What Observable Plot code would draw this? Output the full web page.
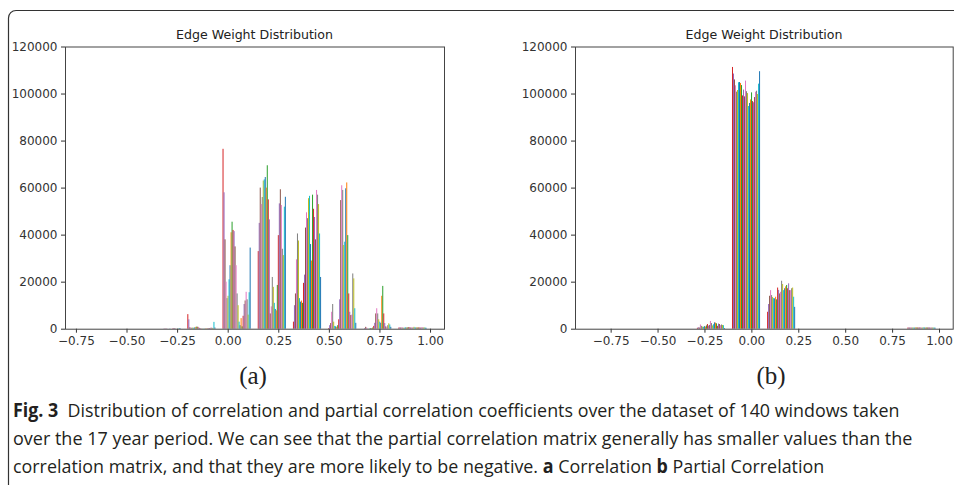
<!DOCTYPE html>
<html>
<head>
<meta charset="utf-8">
<script src="https://cdn.jsdelivr.net/npm/d3@7"></script>
<script src="https://cdn.jsdelivr.net/npm/@observablehq/plot@0.6"></script>
<style>
  html, body { margin: 0; padding: 0; background: #fff; }
  #page { position: relative; width: 954px; height: 485px; overflow: hidden; background: #fff; }
  .panel { position: absolute; top: 0; }
  #overlay { position: absolute; left: 0; top: 0; }
</style>
</head>
<body>
<div id="page">
  <div id="plotA" class="panel" style="left:0px"></div>
  <div id="plotB" class="panel" style="left:477px"></div>
  <svg id="overlay" width="954" height="485"></svg>
</div>
<script>
// ---------------- data ----------------
const tab10 = ["#1f77b4","#ff7f0e","#2ca02c","#d62728","#9467bd","#8c564b","#e377c2","#7f7f7f","#bcbd22","#17becf"];
const xTicks = [-0.75, -0.5, -0.25, 0, 0.25, 0.5, 0.75, 1.0];
const yTicks = [0, 20000, 40000, 60000, 80000, 100000, 120000];

// (a) Correlation: 10 bins, counts (thousands) per window-series within each non-empty bin
const corrBinCenters = [-0.651, -0.477, -0.303, -0.130, 0.044, 0.218, 0.392, 0.566, 0.739, 0.913];
const corrBinWidth = 0.1738;
const corrBin3 = [0,0,0,0,0,0,0,0,0,0,0,0.1,0.1,0.2,0.1,0,0,0.1,0,0,0.2,0.3,0.2,0.1,0,0.1,0.2,0.3];
const corrBin4 = [6.2,4,0.6,0.5,0.4,0.5,0.4,0.6,0.8,0.9,0.8,0.5,0.3,0.2,0.1,0.1,0.1,0.1,0.2,0.1,0.2,0.3,0.3,0.5,0.4,0.3,2.9,0.5];
const corrBin5 = [76.5,58,38,20,13,14,21,27,41,45.5,42,41.5,35,27,15,10,3,1.5,4.5,1,5.5,10.5,12,15.7,12.5,6,15.5,34.5];
const corrBin6 = [33,45,60,53,56,63,63.5,64.5,60,69.5,55,46.5,6.5,9.5,22,17.8,11,8.4,7.8,18.6,39.8,53.3,59.3,52.6,34,31.3,51.9,56.1];
const corrBin7 = [3,10,15,29.5,40.5,37.5,13,11.5,12,11,19.5,23,43,49.5,47,55.5,56.5,36,29,57,51,47.5,38,59,57,53,40.5,22];
const corrBin8 = [0.3,1.5,2.4,7.2,10.5,3,1.2,1,0.8,1.5,4,12.5,54.7,61,59,35.6,37,59.7,62.2,39.8,15,7.2,5.8,6,23.5,21.4,8.7,2.5];
const corrBin9 = [0,0.3,0.8,0.5,0.1,0.1,0.2,0.3,0.3,0.5,1.2,2.5,6.5,8.7,6.5,4,3,2.5,14,18.2,6.5,2.4,1,0.8,1.5,2.3,1.8,0.8];
const corrBin10 = [0.5,0.6,0.5,0.6,0.5,0.4,0.5,0.6,0.5,0.6,0.7,0.6,0.5,0.6,0.5,0.8,0.6,0.5,0.6,0.5,0.6,0.5,0.5,0.7,0.5,0.6,0.5,0.4];

// (b) Partial correlation
const pcorrBinCenters = [-0.7765, -0.5895, -0.4025, -0.2155, -0.0285, 0.1585, 0.3455, 0.5325, 0.7195, 0.9065];
const pcorrBinWidth = 0.187;
const pcorrBin4 = [0.4,0.6,0.5,1.8,1.2,0.9,0.8,1.1,0.9,1.4,2,1.3,1.6,3.3,2.4,1.4,1.9,2.7,2.6,2.3,1.2,2.2,2,1.5,1.8,1.6,1.5,0.3];
const pcorrBin5 = [111.3,108.5,106,103.5,100.8,101.5,104.8,104.9,104.5,103.6,99.2,101.7,98.8,105.5,101,100.2,94.7,96,97.5,100.5,96.8,96.3,98.5,100.8,101.2,99.8,104.2,109.5];
const pcorrBin6 = [7.2,10.5,14,16.4,14.3,13.5,13,12.9,13.6,12.5,17.5,16.5,15,15.7,20.4,19,16.4,17.2,18,18.6,17.2,19.3,16.4,16.4,17.2,17.5,13.6,9.3];
const pcorrBin10 = [0.5,0.55,0.5,0.6,0.5,0.55,0.5,0.5,0.6,0.5,0.55,0.5,0.6,0.5,0.5,0.55,0.6,0.5,0.5,0.55,0.5,0.6,0.5,0.5,0.55,0.5,0.5,0.45];

const captionLines = [
  [["Fig. 3", true], ["  Distribution of correlation and partial correlation coefficients over the dataset of 140 windows taken", false]],
  [["over the 17 year period. We can see that the partial correlation matrix generally has smaller values than the", false]],
  [["correlation matrix, and that they are more likely to be negative. ", false], ["a", true], [" Correlation ", false], ["b", true], [" Partial Correlation", false]]
];

// --------------- build rows (matplotlib-style grouped histogram bars) ---------------
function buildRows(centers, width, groups) {
  const rows = [];
  for (const [bin, vals] of groups) {
    const n = vals.length;
    const c = centers[bin];
    const bw = 0.8 * width / n;
    vals.forEach((v, i) => {
      const x1 = c - 0.4 * width + i * bw;
      rows.push({x1, x2: x1 + bw, y: v * 1000, fill: tab10[(i + 3) % 10]});
    });
  }
  return rows;
}
const rowsA = buildRows(corrBinCenters, corrBinWidth,
  [[2, corrBin3], [3, corrBin4], [4, corrBin5], [5, corrBin6], [6, corrBin7], [7, corrBin8], [8, corrBin9], [9, corrBin10]]);
const rowsB = buildRows(pcorrBinCenters, pcorrBinWidth,
  [[3, pcorrBin4], [4, pcorrBin5], [5, pcorrBin6], [9, pcorrBin10]]);

function panel(rows, xDomain, mLeft, mRight) {
  return Plot.plot({
    width: 477, height: 360,
    marginLeft: mLeft, marginRight: mRight, marginTop: 46.5, marginBottom: 31.3,
    style: {fontFamily: "DejaVu Sans", fontSize: "12px", color: "#333", background: "transparent", overflow: "visible"},
    x: {domain: xDomain, ticks: xTicks, tickFormat: d3.format(".2f"), tickSize: 4, tickPadding: 3, label: null},
    y: {domain: [0, 120000], ticks: yTicks, tickFormat: d3.format("d"), tickSize: 4, tickPadding: 4, label: null},
    color: {type: "identity"},
    marks: [
      Plot.rectY(rows, {x1: "x1", x2: "x2", y: "y", fill: "fill"}),
      Plot.frame({stroke: "#444", strokeWidth: 1})
    ]
  });
}
document.getElementById("plotA").appendChild(panel(rowsA, [-0.804, 1.069], 65, 33));
document.getElementById("plotB").appendChild(panel(rowsB, [-0.94, 1.073], 98, 1.3));

// --------------- overlay: titles, sub-labels, caption, border ---------------
const ov = d3.select("#overlay");
ov.append("path")
  .attr("d", "M8.5,490 L8.5,18 A7.5,7.5 0 0 1 16,10.5 L960,10.5")
  .attr("fill", "none").attr("stroke", "#333").attr("stroke-width", 1.2);

[[254.5, "Edge Weight Distribution"], [764, "Edge Weight Distribution"]].forEach(([x, t]) => {
  ov.append("text").attr("x", x).attr("y", 38.5).attr("text-anchor", "middle")
    .attr("font-family", "DejaVu Sans").attr("font-size", 12.6).attr("fill", "#222").text(t);
});

[[253, "(a)"], [771, "(b)"]].forEach(([x, t]) => {
  ov.append("text").attr("x", x).attr("y", 384).attr("text-anchor", "middle")
    .attr("font-family", "Liberation Serif").attr("font-size", 25).attr("fill", "#222").text(t);
});

const lineTargets = [[417, 887], [445, 900], [473, 812]];
captionLines.forEach((parts, k) => {
  const [y, targetW] = lineTargets[k];
  const t = ov.append("text").attr("x", 0).attr("y", 0)
    .attr("font-family", "Open Sans").attr("font-size", 19).attr("fill", "#231f20")
    .attr("xml:space", "preserve").style("white-space", "pre");
  parts.forEach(([s, bold]) => {
    t.append("tspan").attr("font-weight", bold ? 700 : 400).text(s);
  });
  const w = t.node().getComputedTextLength();
  t.attr("transform", `translate(13,${y}) scale(${targetW / w},1)`);
});
</script>
</body>
</html>
